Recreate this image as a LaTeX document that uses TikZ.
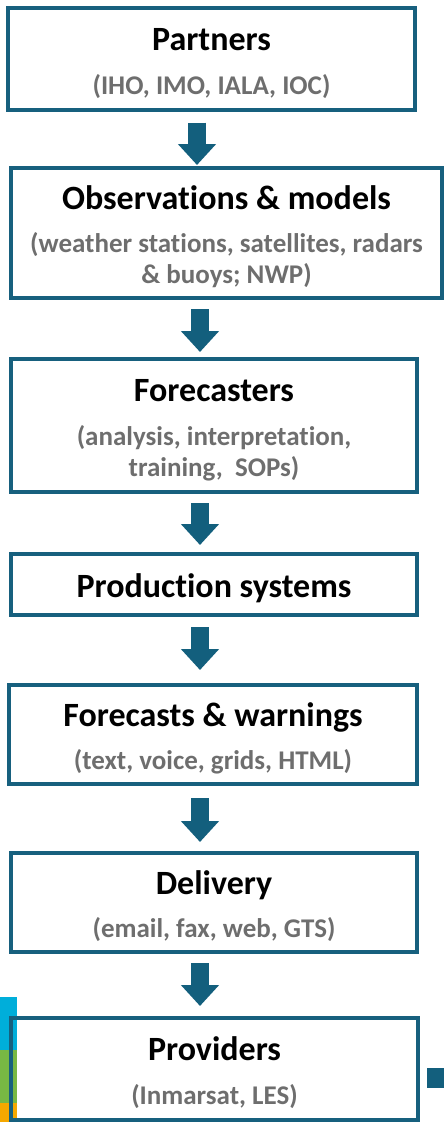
\documentclass[tikz,border=0pt]{standalone}
\usepackage{fontspec}
\setmainfont{Carlito}[Ligatures=NoCommon]
\usetikzlibrary{arrows.meta}
\definecolor{cFrame}{HTML}{17607E}
\definecolor{cArrow}{HTML}{135F7D}
\definecolor{cSub}{HTML}{6E6E6E}
\definecolor{cCyan}{HTML}{00AEDA}
\definecolor{cGreen}{HTML}{78B843}
\definecolor{cOrange}{HTML}{F5A800}
\tikzset{
  stage/.style={draw=cFrame, line width=4pt, align=center, inner sep=0pt,
                font=\fontsize{27}{31}\selectfont\bfseries, text=cSub},
  flow/.style={cArrow, line width=18pt, -{Triangle[length=21pt, width=37pt]}},
}
% stage heading, with a strut to sit it a little lower
\newcommand{\ttl}[1]{{\fontsize{34}{31}\selectfont\color{black}\rule{0pt}{32pt}#1}}

\begin{document}
\begin{tikzpicture}[x=1pt, y=-1pt]
    \useasboundingbox (0,0) rectangle (444,1122);

    % colour strip behind the last box
    \fill[cCyan]   (0,997)  rectangle (17,1050);
    \fill[cGreen]  (0,1050) rectangle (17,1103);
    \fill[cOrange] (0,1103) rectangle (17,1122);

    % stages, top to bottom
    \node[stage, minimum width=407pt, minimum height=101.5pt] (part)  at (211.5,58.75) {\ttl{Partners}\\[13pt] (IHO, IMO, IALA, IOC)};
    \node[stage, minimum width=431pt, minimum height=130pt]   (obs)   at (226.5,233)   {\ttl{Observations \& models}\\[12pt] (weather stations, satellites, radars\\ \& buoys; NWP)};
    \node[stage, minimum width=406pt, minimum height=133pt]   (fcst)  at (214,425.5)   {\ttl{Forecasters}\\[13pt] (analysis, interpretation,\\ training,\ \ SOPs)};
    \node[stage, minimum width=406pt, minimum height=61pt]    (prod)  at (214,584.5)   {\ttl{Production systems}};
    \node[stage, minimum width=408pt, minimum height=99pt]    (warn)  at (213,734.5)   {\ttl{Forecasts \& warnings}\\[12pt] (text, voice, grids, HTML)};
    \node[stage, minimum width=406pt, minimum height=99pt]    (deliv) at (214,902.5)   {\ttl{Delivery}\\[12pt] (email, fax, web, GTS)};
    \node[stage, minimum width=407pt, minimum height=102pt]   (prov)  at (214.5,1069)  {\ttl{Providers}\\[13pt] (Inmarsat, LES)};

    % block arrows between stages
    \foreach \a/\b/\x/\s/\e in {part/obs/197/11/1, obs/fcst/200/9/5, fcst/prod/200/9/7,
                               prod/warn/200/10/13, warn/deliv/200/12/9, deliv/prov/200/9/10}
      \draw[flow, shorten <=\s pt, shorten >=\e pt] (\a.south -| \x,0) -- (\b.north -| \x,0);

    % stub leaving to the right
    \fill[cArrow] (427,1068) rectangle (444,1088);
\end{tikzpicture}
\end{document}
